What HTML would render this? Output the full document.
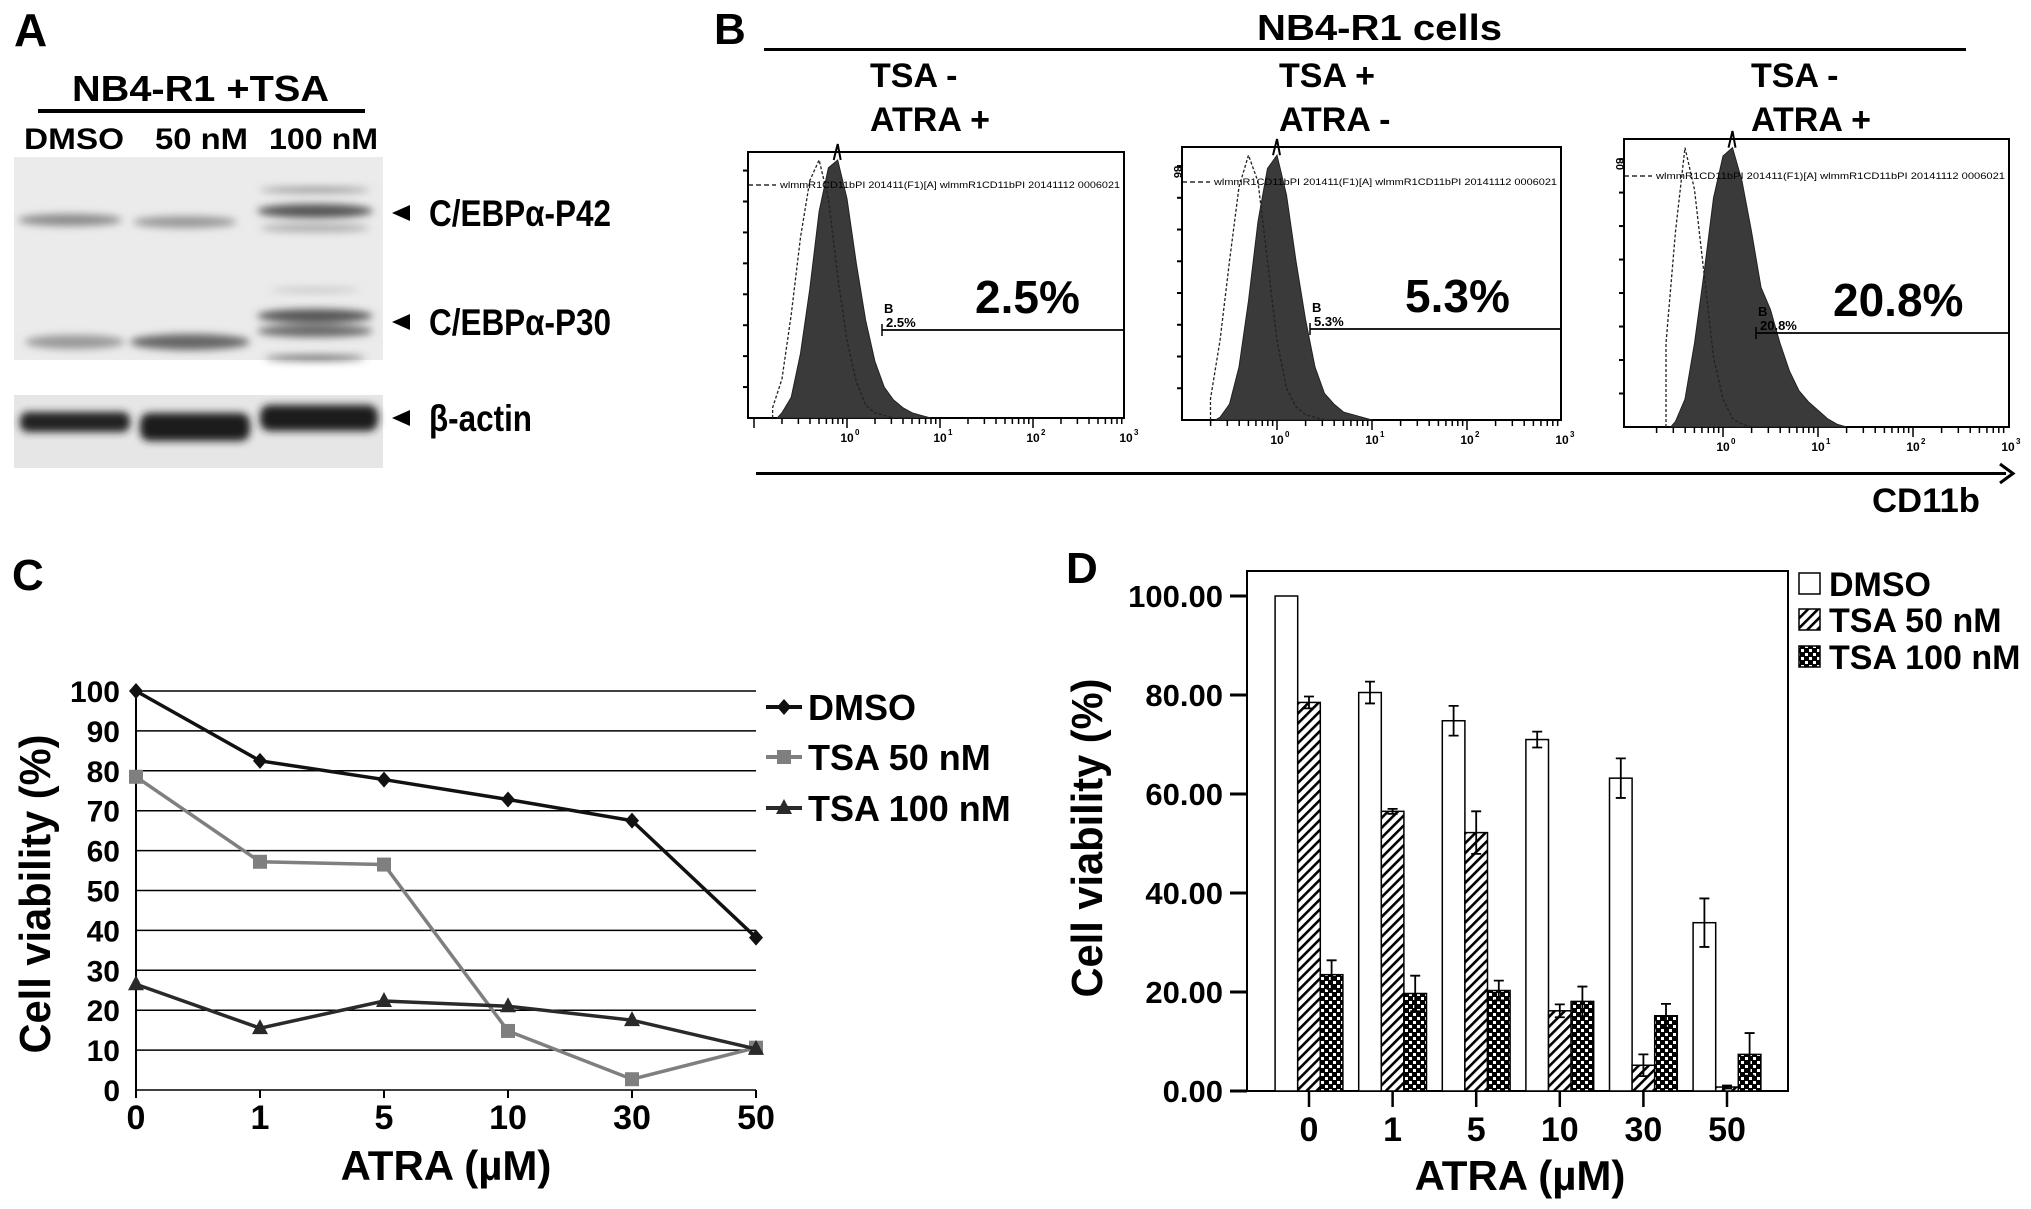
<!DOCTYPE html>
<html><head><meta charset="utf-8">
<style>
html,body{margin:0;padding:0;background:#fff;}
svg{display:block;}
.n{font-family:"Liberation Sans Narrow","Liberation Sans",sans-serif;font-weight:bold;fill:#000;}
.w{font-family:"Liberation Sans",sans-serif;font-weight:bold;fill:#000;}
</style></head>
<body>
<svg id="fig" width="2031" height="1209" viewBox="0 0 2031 1209" xmlns="http://www.w3.org/2000/svg">
<defs>
<filter id="blur4" x="-20%" y="-100%" width="140%" height="300%"><feGaussianBlur stdDeviation="4"/></filter>
<filter id="blur2"><feGaussianBlur stdDeviation="1.5"/></filter>
<pattern id="hatch" patternUnits="userSpaceOnUse" width="7" height="7" patternTransform="rotate(45)">
<rect width="7" height="7" fill="#fff"/><rect width="2.6" height="7" fill="#000"/></pattern>
<pattern id="check" patternUnits="userSpaceOnUse" width="8" height="8">
<rect width="8" height="8" fill="#000"/><rect x="1" y="1" width="3" height="3" fill="#fff"/><rect x="5" y="5" width="3" height="3" fill="#fff"/></pattern>
</defs>

<!-- Panel A -->
<g>
<text class="w" x="14" y="46" font-size="46">A</text>
<text class="n" x="72" y="101" font-size="36" textLength="257" lengthAdjust="spacingAndGlyphs">NB4-R1 +TSA</text>
<rect x="38" y="109" width="327" height="4" fill="#000"/>
<text class="n" x="24" y="149" font-size="30" textLength="100" lengthAdjust="spacingAndGlyphs">DMSO</text>
<text class="n" x="155" y="149" font-size="30" textLength="93" lengthAdjust="spacingAndGlyphs">50 nM</text>
<text class="n" x="269" y="149" font-size="30" textLength="109" lengthAdjust="spacingAndGlyphs">100 nM</text>
<g>
<rect x="14" y="157" width="369" height="203" fill="#ebebeb"/>
<g filter="url(#blur4)">
<ellipse cx="70" cy="220" rx="52" ry="6" fill="#8a8a8a"/>
<ellipse cx="185" cy="222" rx="52" ry="6" fill="#999"/>
<ellipse cx="315" cy="211" rx="58" ry="7" fill="#555"/>
<ellipse cx="315" cy="190" rx="55" ry="2.5" fill="#888"/>
<ellipse cx="315" cy="228" rx="55" ry="4" fill="#aaa"/>
<ellipse cx="75" cy="342" rx="50" ry="7" fill="#999"/>
<ellipse cx="190" cy="342" rx="60" ry="8" fill="#666"/>
<ellipse cx="315" cy="316" rx="58" ry="7" fill="#555"/>
<ellipse cx="315" cy="331" rx="58" ry="6" fill="#666"/>
<ellipse cx="315" cy="358" rx="50" ry="2.5" fill="#555"/>
<ellipse cx="315" cy="290" rx="45" ry="2" fill="#bbb"/>
</g>
</g>
<g>
<rect x="14" y="395" width="369" height="73" fill="#e6e6e6"/>
<g filter="url(#blur4)">
<rect x="20" y="412" width="110" height="20" rx="8" fill="#222"/>
<rect x="140" y="413" width="110" height="28" rx="10" fill="#1a1a1a"/>
<rect x="260" y="405" width="118" height="26" rx="10" fill="#1a1a1a"/>
</g>
</g>
<g>
<path d="M392 213 L410 205 L410 221 Z" fill="#000"/>
<text class="n" x="429" y="226" font-size="37" textLength="182" lengthAdjust="spacingAndGlyphs">C/EBPα-P42</text>
<path d="M392 322 L410 314 L410 330 Z" fill="#000"/>
<text class="n" x="429" y="335" font-size="37" textLength="182" lengthAdjust="spacingAndGlyphs">C/EBPα-P30</text>
<path d="M392 418 L410 410 L410 426 Z" fill="#000"/>
<text class="n" x="429" y="431" font-size="37" textLength="103" lengthAdjust="spacingAndGlyphs">β-actin</text>
</g>
</g>

<!-- Panel B -->
<g id="panelB">
<text class="w" x="714" y="44" font-size="44">B</text>
<text class="n" x="1257" y="40" font-size="36" textLength="245" lengthAdjust="spacingAndGlyphs">NB4-R1 cells</text>
<rect x="764" y="48" width="1202" height="3" fill="#000"/>
<text class="n" x="870" y="87" font-size="34">TSA -</text>
<text class="n" x="870" y="131" font-size="34">ATRA +</text>
<text class="n" x="1279" y="87" font-size="34">TSA +</text>
<text class="n" x="1279" y="131" font-size="34">ATRA -</text>
<text class="n" x="1751" y="87" font-size="34">TSA -</text>
<text class="n" x="1751" y="131" font-size="34">ATRA +</text>
<rect x="756" y="472" width="1250" height="3" fill="#000"/>
<path d="M2000 464 L2013 473.5 L2000 483" fill="none" stroke="#000" stroke-width="3"/>
<text class="n" x="1872" y="512" font-size="34" textLength="108" lengthAdjust="spacingAndGlyphs">CD11b</text>
</g>

<!-- Panel C -->
<g id="panelC">
<text class="w" x="12" y="590" font-size="44">C</text>
<text class="w" transform="translate(50,894) rotate(-90)" text-anchor="middle" font-size="44" textLength="319" lengthAdjust="spacingAndGlyphs">Cell viability (%)</text>
<text class="n" x="446" y="1180" text-anchor="middle" font-size="42">ATRA (µM)</text>
</g>

<!-- Panel D -->
<g id="panelD">
<text class="w" x="1066" y="583" font-size="44">D</text>
<text class="w" transform="translate(1102,838) rotate(-90)" text-anchor="middle" font-size="44" textLength="319" lengthAdjust="spacingAndGlyphs">Cell viability (%)</text>
<text class="n" x="1520" y="1190" text-anchor="middle" font-size="42">ATRA (µM)</text>
</g>
</svg>

<script>
// ---------- Panel C data ----------
const cCats = ["0","1","5","10","30","50"];
const cDmso = [100, 82.5, 77.8, 72.8, 67.5, 38.2];
const cTsa50 = [78.5, 57.2, 56.5, 14.8, 2.7, 10.6];
const cTsa100 = [26.5, 15.5, 22.3, 21.0, 17.5, 10.3];
const cTicks = [0,10,20,30,40,50,60,70,80,90,100];
// ---------- Panel D data ----------
const dCats = ["0","1","5","10","30","50"];
const dDmso = [100, 80.5, 74.8, 71.0, 63.2, 34.0];
const dDmsoErr = [0, 2.2, 3.0, 1.6, 4.0, 4.9];
const dTsa50 = [78.5, 56.5, 52.2, 16.2, 5.2, 0.8];
const dTsa50Err = [1.2, 0.5, 4.3, 1.3, 2.2, 0.3];
const dTsa100 = [23.5, 19.7, 20.3, 18.1, 15.2, 7.4];
const dTsa100Err = [2.9, 3.6, 2.0, 3.0, 2.4, 4.3];
const dTicks = [0,20,40,60,80,100];
// ---------- Panel B data (relative counts per log10 bin) ----------
const flowPct = ["2.5%","5.3%","20.8%"];
const h1Start = -0.7;
const h1 = [0.02,0.08,0.25,0.5,0.8,0.97,1.0,0.85,0.6,0.38,0.22,0.12,0.07,0.04,0.02,0.01];
const h1c = [0.04,0.15,0.4,0.7,0.92,1.0,0.85,0.55,0.3,0.14,0.05,0.02,0.01,0,0,0];
const h2Start = -0.6;
const h2 = [0.01,0.06,0.2,0.45,0.75,0.95,1.0,0.85,0.6,0.38,0.2,0.1,0.06,0.03,0.02,0.01];
const h2c = [0.08,0.3,0.6,0.88,1.0,0.9,0.6,0.3,0.12,0.05,0.02,0.01,0,0,0,0];
const h3Start = -0.5;
const h3 = [0.02,0.1,0.3,0.55,0.82,0.97,1.0,0.88,0.7,0.5,0.42,0.3,0.2,0.13,0.09,0.06,0.03,0.01];
const h3c = [0.3,0.7,1.0,0.85,0.55,0.25,0.1,0.03,0.01,0,0,0,0,0,0,0,0,0];

const NS = "http://www.w3.org/2000/svg";
function mk(parent, tag, attrs, text){
  const e = document.createElementNS(NS, tag);
  for (const k in attrs) e.setAttribute(k, attrs[k]);
  if (text !== undefined) e.textContent = text;
  parent.appendChild(e);
  return e;
}

// ================= Panel C =================
(function(){
  const g = document.getElementById('panelC');
  const x0 = 136, dx = 124, yBase = 1090, yTop = 691;
  const xC = i => x0 + i*dx;
  const yC = v => yBase - v*(yBase-yTop)/100;
  cTicks.forEach(t=>{
    const ln = mk(g,'line',{x1:x0,x2:xC(cCats.length-1),y1:yC(t),y2:yC(t),stroke:'#000','stroke-width':1.5});
    
    
    const tx = mk(g,'text',{x:120,y:yC(t)+11,'text-anchor':'end','font-size':30,class:'n'},String(t));
    
    
  });
  const ax = mk(g,'line',{x1:x0,x2:x0,y1:yTop,y2:yBase,stroke:'#000','stroke-width':2});
  
  
  cCats.forEach((c,i)=>{
    const tk = mk(g,'line',{x1:xC(i),x2:xC(i),y1:yBase,y2:yBase+8,stroke:'#000','stroke-width':2});
    
    
    const tx = mk(g,'text',{x:xC(i),y:1129,'text-anchor':'middle','font-size':34,class:'n'},c);
    
    
  });
  function marker(par,type,x,y,col){
    let m;
    if(type==='diamond') m = mk(par,'path',{d:`M${x} ${y-8} L${x+7} ${y} L${x} ${y+8} L${x-7} ${y} Z`,fill:col});
    else if(type==='square') m = mk(par,'rect',{x:x-7,y:y-7,width:14,height:14,fill:col});
    else m = mk(par,'path',{d:`M${x} ${y-9} L${x+8} ${y+6} L${x-8} ${y+6} Z`,fill:col});
    
    
  }
  const series = [
    {name:'dmso',vals:cDmso,col:'#111',type:'diamond',label:'DMSO',ly:707},
    {name:'tsa50',vals:cTsa50,col:'#7f7f7f',type:'square',label:'TSA 50 nM',ly:757},
    {name:'tsa100',vals:cTsa100,col:'#2a2a2a',type:'triangle',label:'TSA 100 nM',ly:808}
  ];
  series.forEach(s=>{
    const sg = mk(g,'g',{});
    
    
    const pts = s.vals.map((v,i)=>xC(i)+','+yC(v)).join(' ');
    const pl = mk(sg,'polyline',{points:pts,fill:'none',stroke:s.col,'stroke-width':3.5});
    
    
    s.vals.forEach((v,i)=>marker(sg,s.type,xC(i),yC(v),s.col));
    const lg = mk(g,'g',{});
    
    
    mk(lg,'line',{x1:766,x2:802,y1:s.ly,y2:s.ly,stroke:s.col,'stroke-width':4});
    marker(lg,s.type,784,s.ly,s.col);
    mk(lg,'text',{x:808,y:s.ly+13,'font-size':36,class:'n'},s.label);
  });
})();

// ================= Panel D =================
(function(){
  const g = document.getElementById('panelD');
  const left = 1247, right = 1788, top = 571, base = 1091;
  const yD = v => base - v*4.95;
  const xD = i => 1309 + i*83.6;
  const bw = 22.6;
  const box = mk(g,'rect',{x:left,y:top,width:right-left,height:base-top,fill:'none',stroke:'#000','stroke-width':2});
  
  
  dTicks.forEach(t=>{
    const tk = mk(g,'line',{x1:1230,x2:left,y1:yD(t),y2:yD(t),stroke:'#000','stroke-width':3});
    
    
    const tx = mk(g,'text',{x:1223,y:yD(t)+11,'text-anchor':'end','font-size':31,class:'n'},t.toFixed(2));
    
    
  });
  const series = [
    {name:'dmso',vals:dDmso,err:dDmsoErr,fill:'#fff',off:-1.5},
    {name:'tsa50',vals:dTsa50,err:dTsa50Err,fill:'url(#hatch)',off:-0.5},
    {name:'tsa100',vals:dTsa100,err:dTsa100Err,fill:'url(#check)',off:0.5}
  ];
  series.forEach(s=>{
    s.vals.forEach((v,i)=>{
      const x = xD(i)+s.off*bw;
      const b = mk(g,'rect',{x:x,y:yD(v),width:bw,height:base-yD(v),fill:s.fill,stroke:'#000','stroke-width':1.5});
      
      
      const e = s.err[i];
      if(e>0){
        const cx = x+bw/2;
        const eb = mk(g,'path',{d:`M${cx} ${yD(v+e)} V${yD(v-e)} M${cx-5} ${yD(v+e)} H${cx+5} M${cx-5} ${yD(v-e)} H${cx+5}`,stroke:'#000','stroke-width':1.8,fill:'none'});
        
        
      }
    });
  });
  dCats.forEach((c,i)=>{
    const tk = mk(g,'line',{x1:xD(i),x2:xD(i),y1:base,y2:base+16,stroke:'#000','stroke-width':2.5});
    
    
    const tx = mk(g,'text',{x:xD(i),y:1141,'text-anchor':'middle','font-size':34,class:'n'},c);
    
    
  });
  const leg = [['DMSO','#fff',584],['TSA 50 nM','url(#hatch)',620],['TSA 100 nM','url(#check)',657]];
  leg.forEach(l=>{
    const lg = mk(g,'g',{});
    
    
    mk(lg,'rect',{x:1799,y:l[2]-11,width:21,height:21,fill:l[1],stroke:'#000','stroke-width':1.5});
    mk(lg,'text',{x:1829,y:l[2]+12,'font-size':34,class:'n'},l[0]);
  });
})();

// ================= Panel B =================
(function(){
  const g = document.getElementById('panelB');
  const plots = [
    {L:748,R:1124,T:152,B:418,x0:847,dec:93,h:h1,hc:h1c,st:h1Start,gy:330,gx:882,pct:flowPct[0],px:975,hdr:185,ylab:''},
    {L:1182,R:1561,T:147,B:420,x0:1277,dec:95,h:h2,hc:h2c,st:h2Start,gy:329,gx:1310,pct:flowPct[1],px:1405,hdr:182,ylab:'86'},
    {L:1624,R:2009,T:139,B:427,x0:1723,dec:95,h:h3,hc:h3c,st:h3Start,gy:333,gx:1756,pct:flowPct[2],px:1833,hdr:176,ylab:'80'}
  ];
  plots.forEach((p,k)=>{
    const pg = mk(g,'g',{});
    
    
    const xs = lg => p.x0 + lg*p.dec;
    const ys = f => p.B - f*(p.B-p.T)*0.97;
    mk(pg,'rect',{x:p.L,y:p.T,width:p.R-p.L,height:p.B-p.T,fill:'#fff',stroke:'#000','stroke-width':2});
    // filled histogram
    let d = `M${xs(p.st-0.05)} ${p.B}`;
    p.h.forEach((v,i)=>{ d += ` L${xs(p.st+i*0.1)} ${ys(v)}`; });
    d += ` L${xs(p.st+p.h.length*0.1)} ${p.B} Z`;
    const hp = mk(pg,'path',{d:d,fill:'#3a3a3a',stroke:'#222','stroke-width':1});
    
    
    // control dashed
    let dc = `M${xs(p.st-0.1)} ${p.B}`;
    p.hc.forEach((v,i)=>{ dc += ` L${xs(p.st-0.1+i*0.1)} ${ys(v)}`; });
    const cp = mk(pg,'path',{d:dc,fill:'none',stroke:'#222','stroke-width':1.3,'stroke-dasharray':'3,2'});
    
    
    // spike at peak
    let pk = 0; p.h.forEach((v,i)=>{ if(v>p.h[pk]) pk=i; });
    mk(pg,'path',{d:`M${xs(p.st+pk*0.1)-4} ${ys(1)} L${xs(p.st+pk*0.1)} ${p.T-8} L${xs(p.st+pk*0.1)+3} ${ys(1)}`,fill:'none',stroke:'#000','stroke-width':2});
    // header dashed line & text
    mk(pg,'line',{x1:p.L,x2:p.L+28,y1:p.hdr,y2:p.hdr,stroke:'#000','stroke-width':1.3,'stroke-dasharray':'5,3'});
    const ht = mk(pg,'text',{x:p.L+32,y:p.hdr+3,'font-size':9,'font-family':'Liberation Sans Narrow, Liberation Sans, sans-serif',fill:'#000',textLength:p.R-p.L-36,lengthAdjust:'spacingAndGlyphs'},'wlmmR1CD11bPI 201411(F1)[A] wlmmR1CD11bPI 20141112 0006021');
    
    
    // gate
    mk(pg,'line',{x1:p.gx,x2:p.R,y1:p.gy,y2:p.gy,stroke:'#000','stroke-width':1.8});
    mk(pg,'line',{x1:p.gx,x2:p.gx,y1:p.gy-6,y2:p.gy+6,stroke:'#000','stroke-width':1.5});
    mk(pg,'text',{x:p.gx+2,y:p.gy-17,'font-size':13,class:'n'},'B');
    mk(pg,'text',{x:p.gx+4,y:p.gy-3,'font-size':13,class:'n'},p.pct);
    const bp = mk(pg,'text',{x:p.px,y:p.gy-17,'font-size':46,class:'n'},p.pct);
    
    
    // x ticks
    for(let dd=0; dd<=3; dd++){
      for(let m=1; m<=9; m++){
        const lg = dd-1+Math.log10(m);
        const xx = xs(lg);
        if(xx<p.L+5 || xx>p.R) continue;
        mk(pg,'line',{x1:xx,x2:xx,y1:p.B,y2:p.B+(m===1?10:6),stroke:'#000','stroke-width':1.5});
      }
      const tl = mk(pg,'text',{x:xs(dd),y:p.B+24,'text-anchor':'middle','font-size':12,class:'n'},'10');
      mk(pg,'text',{x:xs(dd)+8,y:p.B+17,'font-size':8,class:'n'},String(dd));
      
      
    }
    // y ticks
    for(let j=1;j<=8;j++){
      const yy = p.B - j*(p.B-p.T)/8.6;
      mk(pg,'line',{x1:p.L-5,x2:p.L,y1:yy,y2:yy,stroke:'#000','stroke-width':2});
    }
    if(p.ylab){
      mk(pg,'text',{transform:`translate(${p.L-8},${p.T+25}) rotate(90)`,'font-size':11,class:'n','text-anchor':'middle'},p.ylab);
    }
  });
})();
</script>
</body></html>
